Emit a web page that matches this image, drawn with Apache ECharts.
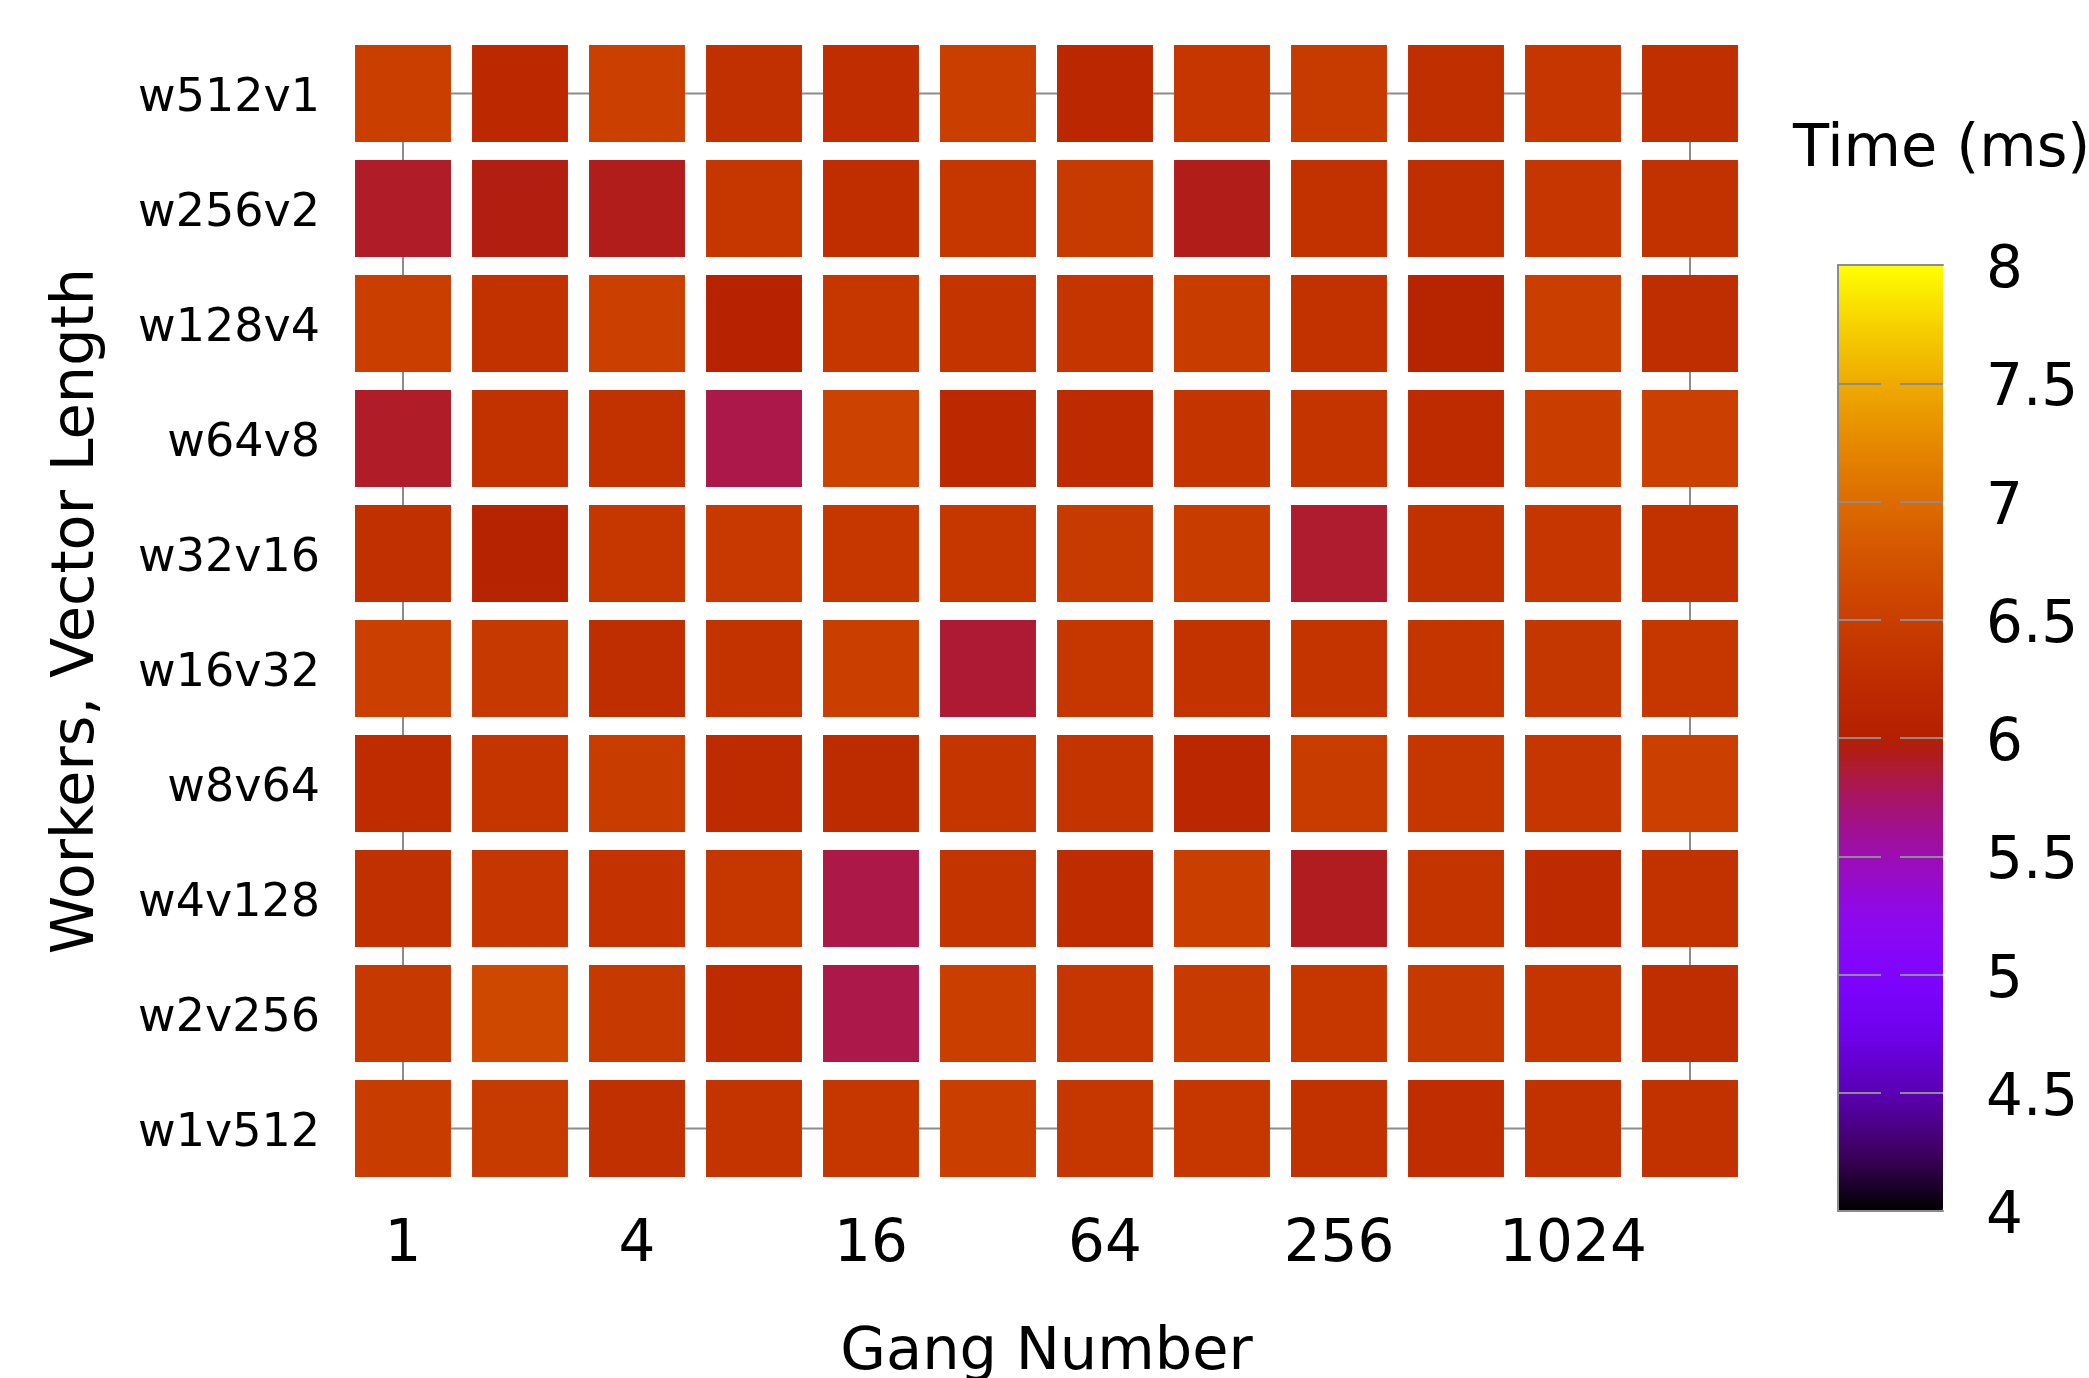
<!DOCTYPE html>
<html>
<head>
<meta charset="utf-8">
<title>Gang Number vs Workers, Vector Length</title>
<script src="https://cdn.jsdelivr.net/npm/echarts@6/dist/echarts.min.js"></script>
<style>
  html, body { margin: 0; padding: 0; background: #fff; }
  #chart { width: 2089px; height: 1378px; }
</style>
</head>
<body>
<div id="chart"></div>
<script>
// x categories (gang number), every other one gets a label
const gangs = ['1', '2', '4', '8', '16', '32', '64', '128', '256', '512', '1024', '2048'];
// y categories, top to bottom
const configs = ['w512v1', 'w256v2', 'w128v4', 'w64v8', 'w32v16', 'w16v32', 'w8v64', 'w4v128', 'w2v256', 'w1v512'];

// time in ms, one array per row
const timeW512v1 = [6.50, 6.18, 6.52, 6.30, 6.25, 6.50, 6.15, 6.38, 6.45, 6.28, 6.38, 6.28];
const timeW256v2 = [5.90, 5.96, 5.93, 6.40, 6.27, 6.40, 6.45, 5.94, 6.32, 6.28, 6.38, 6.32];
const timeW128v4 = [6.50, 6.32, 6.52, 6.06, 6.40, 6.35, 6.37, 6.47, 6.32, 6.07, 6.50, 6.26];
const timeW64v8 = [5.90, 6.32, 6.32, 5.81, 6.55, 6.18, 6.22, 6.35, 6.36, 6.22, 6.48, 6.52];
const timeW32v16 = [6.30, 6.05, 6.40, 6.43, 6.40, 6.40, 6.45, 6.47, 5.88, 6.32, 6.38, 6.32];
const timeW16v32 = [6.52, 6.42, 6.26, 6.34, 6.50, 5.87, 6.40, 6.34, 6.36, 6.37, 6.39, 6.40];
const timeW8v64 = [6.24, 6.37, 6.47, 6.22, 6.21, 6.37, 6.35, 6.15, 6.47, 6.40, 6.38, 6.52];
const timeW4v128 = [6.30, 6.38, 6.33, 6.40, 5.82, 6.35, 6.24, 6.50, 5.92, 6.36, 6.22, 6.32];
const timeW2v256 = [6.42, 6.62, 6.42, 6.22, 5.81, 6.50, 6.38, 6.44, 6.40, 6.42, 6.37, 6.26];
const timeW1v512 = [6.47, 6.46, 6.30, 6.36, 6.40, 6.50, 6.40, 6.40, 6.32, 6.25, 6.32, 6.32];

const timeRows = [timeW512v1, timeW256v2, timeW128v4, timeW64v8, timeW32v16,
  timeW16v32, timeW8v64, timeW4v128, timeW2v256, timeW1v512];

// gnuplot-like palette (black - purple - red - orange - yellow)
const palette = [
  '#000000', '#400062', '#5a00b4', '#6e02ec', '#8004ff', '#8f08ec', '#9c0db4', '#a91562',
  '#b42000', '#bf2d00', '#ca3e00', '#d35300', '#dd6c00', '#e68900', '#efab00', '#f7d200', '#ffff00'
];

const cells = [];
timeRows.forEach((row, yi) => {
  row.forEach((v, xi) => cells.push([xi, yi, v]));
});

const font = 'DejaVu Sans';
const gray = '#8c8c8c';

const chart = echarts.init(document.getElementById('chart'));
chart.setOption({
  backgroundColor: '#fff',
  animation: false,
  title: {
    text: 'Time (ms)',
    left: 1793,
    top: 121,
    padding: 0,
    textStyle: { fontFamily: font, fontSize: 59, fontWeight: 'normal', color: '#000' }
  },
  grid: [
    // main grid spans from first to last cell centre (gnuplot style border)
    {
      left: 403, top: 93.5, width: 1287, height: 1035, show: true,
      borderColor: gray, borderWidth: 2, containLabel: false, outerBoundsMode: 'none'
    },
    // colour box
    { left: 1838, top: 265, width: 105, height: 946, containLabel: false, outerBoundsMode: 'none' }
  ],
  xAxis: [
    {
      type: 'category', gridIndex: 0, data: gangs, boundaryGap: false,
      axisLine: { show: false }, axisTick: { show: false }, splitLine: { show: false },
      axisLabel: { interval: 1, margin: 88, fontFamily: font, fontSize: 58, color: '#000' },
      name: 'Gang Number', nameLocation: 'middle', nameGap: 196,
      nameTextStyle: { fontFamily: font, fontSize: 59, color: '#000' }
    },
    {
      type: 'value', gridIndex: 1, position: 'bottom', min: 0, max: 1, z: 10,
      axisLine: { show: true, lineStyle: { color: gray, width: 2 } },
      axisTick: { show: false }, axisLabel: { show: false }, splitLine: { show: false }
    },
    {
      type: 'value', gridIndex: 1, position: 'top', min: 0, max: 1, z: 10,
      axisLine: { show: true, lineStyle: { color: gray, width: 2 } },
      axisTick: { show: false }, axisLabel: { show: false }, splitLine: { show: false }
    }
  ],
  yAxis: [
    {
      type: 'category', gridIndex: 0, data: configs, inverse: true, boundaryGap: false,
      axisLine: { show: false }, axisTick: { show: false }, splitLine: { show: false },
      // small line box anchored at the top nudges the text a few px below the row centre
      axisLabel: {
        margin: 83, verticalAlign: 'top', lineHeight: 12,
        fontFamily: font, fontSize: 46, color: '#000'
      },
      name: 'Workers, Vector Length', nameLocation: 'middle', nameGap: 296, nameRotate: 90,
      nameTextStyle: { fontFamily: font, fontSize: 59, color: '#000' }
    },
    {
      // colour box scale: tick marks drawn as split lines with a gap in the middle
      type: 'value', gridIndex: 1, position: 'right', min: 4, max: 8, interval: 0.5, z: 10,
      axisLine: { show: true, lineStyle: { color: gray, width: 2 } },
      axisTick: { show: false },
      axisLabel: {
        margin: 43, verticalAlign: 'top', lineHeight: 14,
        fontFamily: font, fontSize: 58, color: '#000'
      },
      splitLine: { show: true, lineStyle: { color: gray, width: 2, type: [43, 19] } }
    },
    {
      type: 'value', gridIndex: 1, position: 'left', min: 4, max: 8, interval: 0.5, z: 10,
      axisLine: { show: true, lineStyle: { color: gray, width: 2 } },
      axisTick: { show: false }, axisLabel: { show: false }, splitLine: { show: false }
    }
  ],
  visualMap: {
    type: 'continuous',
    min: 4, max: 8,
    dimension: 2,
    seriesIndex: 0,
    calculable: false,
    hoverLink: false,
    orient: 'vertical',
    left: 1838, top: 265,
    padding: 0,
    itemWidth: 105, itemHeight: 946,
    text: null,
    inRange: { color: palette }
  },
  series: [{
    type: 'custom',
    xAxisIndex: 0, yAxisIndex: 0,
    encode: { x: 0, y: 1 },
    data: cells,
    z: 5,
    renderItem(params, api) {
      const c = api.coord([api.value(0), api.value(1)]);
      const s = api.size([1, 1]);
      const w = s[0] * 0.82;
      const h = s[1] * 0.845;
      return {
        type: 'rect',
        shape: { x: c[0] - w / 2, y: c[1] - h / 2, width: w, height: h },
        style: { fill: api.visual('color') }
      };
    }
  }]
});
</script>
</body>
</html>
